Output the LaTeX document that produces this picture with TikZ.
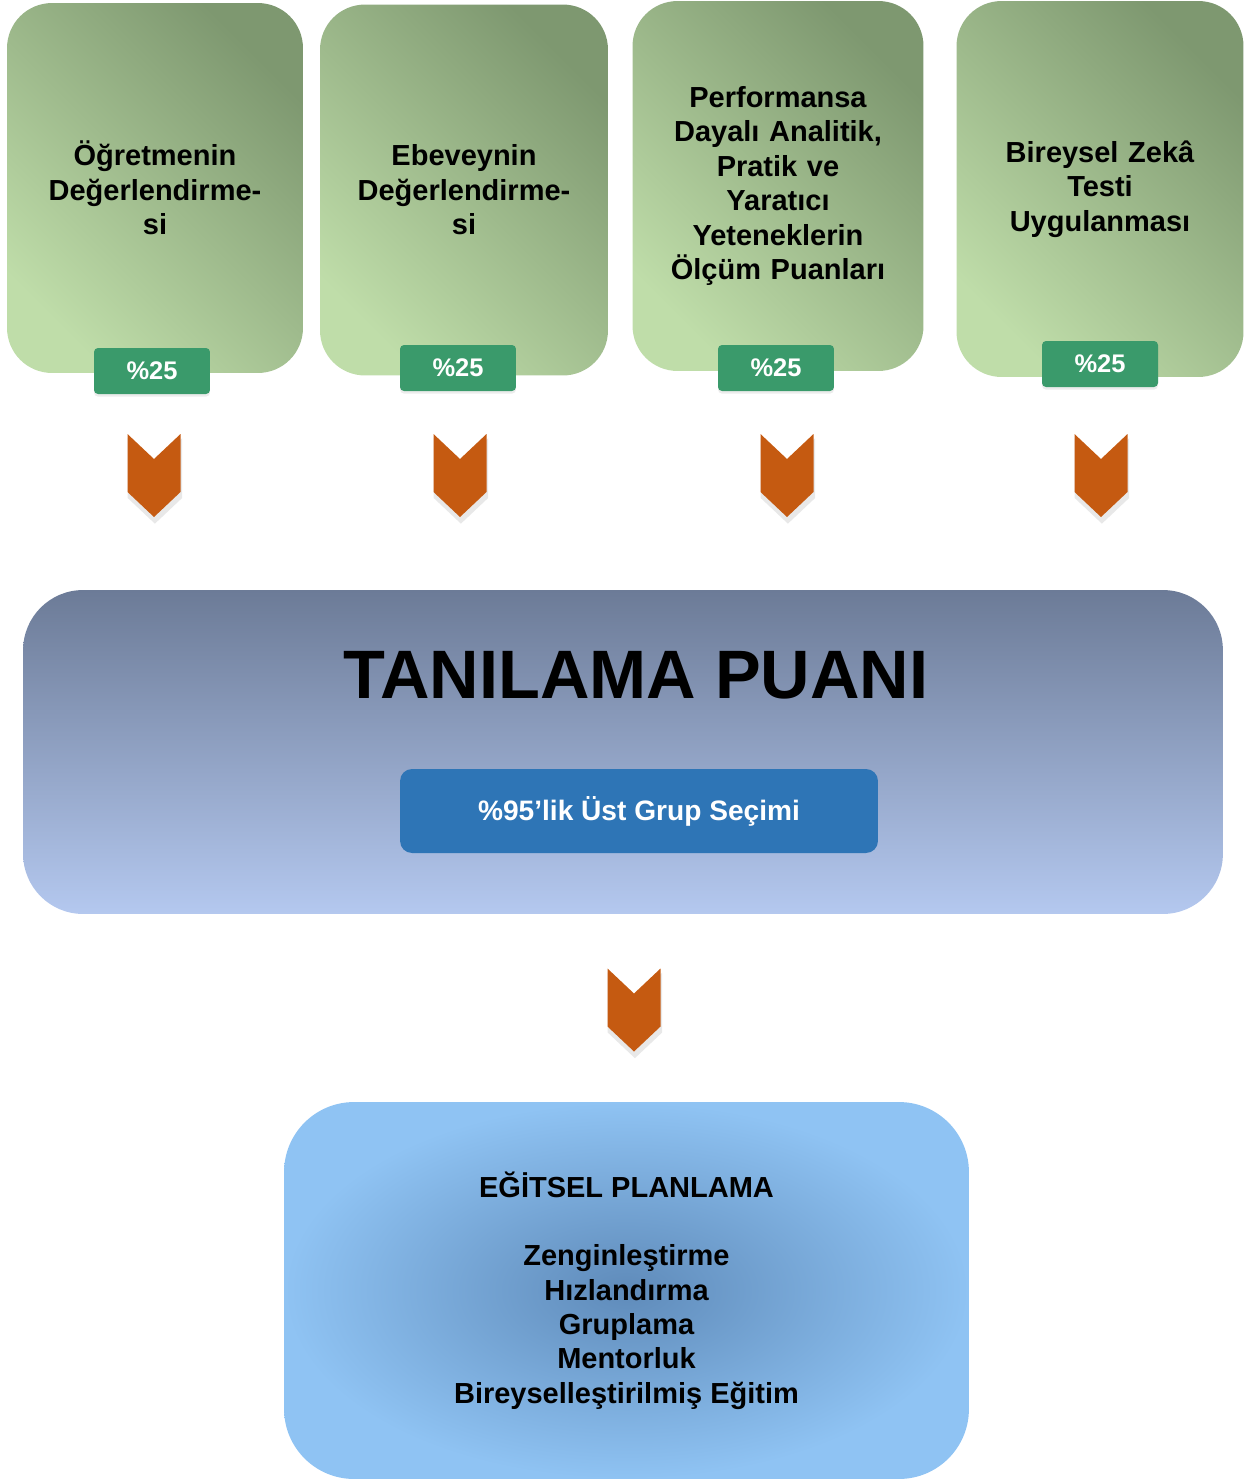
\documentclass[tikz,border=0pt]{standalone}
\usepackage{fontspec}
\setmainfont{Liberation Sans}
\definecolor{yesil-acik}{HTML}{BFDDA9}
\definecolor{yesil-koyu}{HTML}{7E9870}
\definecolor{sekme}{HTML}{3A9A6B}
\definecolor{turuncu}{HTML}{C55A11}
\definecolor{gri-mavi}{HTML}{6C7B97}
\definecolor{acik-mavi}{HTML}{B4C8EF}
\definecolor{dugme}{HTML}{2E75B6}
\definecolor{ic-mavi}{HTML}{5F8BBA}
\definecolor{dis-mavi}{HTML}{8FC3F3}
\usetikzlibrary{positioning, shadows, calc}

\begin{document}
\begin{tikzpicture}[
    x=0.02cm, y=-0.02cm,
    kriter/.style={rectangle, rounded corners=0.9cm, top color=yesil-koyu, bottom color=yesil-acik, shading angle=-45, minimum height=7.4cm, text width=5.4cm, align=center, font=\fontsize{16.5}{19.6}\selectfont\bfseries},
    oran/.style={rectangle, rounded corners=0.08cm, fill=sekme, minimum width=2.32cm, minimum height=0.92cm, text=white, font=\fontsize{14.5}{17}\selectfont\bfseries, drop shadow={opacity=0.15, shadow xshift=0pt, shadow yshift=-1.5pt}},
    tani/.style={rectangle, rounded corners=1.2cm, top color=gri-mavi, bottom color=acik-mavi, minimum width=24cm, minimum height=6.48cm},
    secim/.style={rectangle, rounded corners=0.24cm, fill=dugme, minimum width=9.56cm, minimum height=1.68cm, text=white, font=\fontsize{16}{19}\selectfont\bfseries},
    plan/.style={rectangle, rounded corners=1.4cm, inner color=ic-mavi, outer color=dis-mavi, minimum width=13.7cm, minimum height=7.54cm, align=center, font=\fontsize{16.5}{19.5}\selectfont\bfseries},
    ok/.pic={\fill[turuncu, drop shadow={opacity=0.18, shadow xshift=0.5pt, shadow yshift=-3pt, shadow scale=1.03}]
        (-26.5,-41.5) -- (0,-16.5) -- (26.5,-41.5) -- (26.5,16.5) -- (0,41.5) -- (-26.5,16.5) -- cycle;}
]
\useasboundingbox (0,0) rectangle (1252,1481);

% Kriterler
\node[kriter, minimum width=5.92cm] (k1) at (155,188) {Öğretmenin\\Değerlendirme-\\si};
\node[kriter, minimum width=5.76cm, minimum height=7.42cm] (k2) at (464,190) {Ebeveynin\\Değerlendirme-\\si};
\node[kriter, minimum width=5.82cm] (k3) at (778,186) {Performansa\\Dayalı Analitik,\\Pratik ve\\Yaratıcı\\Yeteneklerin\\Ölçüm Puanları};
\node[kriter, minimum width=5.74cm, minimum height=7.52cm] (k4) at (1100,189) {Bireysel Zekâ\\Testi\\Uygulanması};

% Oranlar
\node[oran] (o1) at (152,371) {\%25};
\node[oran] (o2) at (458,368) {\%25};
\node[oran] (o3) at (776,368) {\%25};
\node[oran] (o4) at (1100,364) {\%25};

% Oklar
\foreach \x in {154,460,787,1101}
  \pic at (\x,475.5) {ok};
\pic at (634,1010) {ok};

% Tanilama puani
\node[tani] (tp) at (623,752) {};
\node[font=\fontsize{39}{44}\selectfont\bfseries] (baslik) at (636,675) {TANILAMA PUANI};
\node[secim] (ust) at (639,811) {\%95’lik Üst Grup Seçimi};

% Egitsel planlama
\node[plan] (ep) at (626.5,1290.5) {EĞİTSEL PLANLAMA\\[19.5pt]Zenginleştirme\\Hızlandırma\\Gruplama\\Mentorluk\\Bireyselleştirilmiş Eğitim};

\end{tikzpicture}
\end{document}
